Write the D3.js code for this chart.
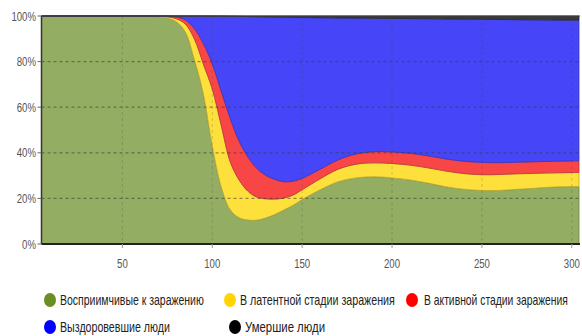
<!DOCTYPE html>
<html><head><meta charset="utf-8">
<script src="https://cdn.jsdelivr.net/npm/d3@7"></script>
<style>body{margin:0;background:#fff}svg{display:block}text{font-family:"Liberation Sans",Arial,sans-serif}</style>
</head><body>
<svg id="c" width="582" height="336"></svg>
<script>
const days = [5,20,40,60,65,70,75,80,85,90,95,100,105,110,115,120,125,130,135,140,145,150,160,170,180,190,200,210,220,230,240,250,260,270,280,290,304];
const susceptible = [100,100,100,100,99.9,99.6,99,97.5,93,81,66,43,25,15,11.5,10.5,10.5,11.5,13,15,17,19.5,23.8,27.3,29,29.5,29,28.1,26.7,25.1,24,23.5,23.5,24,24.5,25,25.2];
const latent = [0,0,0,0,0.1,0.3,0.6,1.3,3.5,9,13,25,27,21,16.5,12.5,10,8.3,6.7,5.2,4.5,4.3,4.8,5.5,6,6.1,6.3,6.5,6.7,6.9,6.9,6.9,7,6.8,6.5,6.2,6.2];
const active = [0,0,0,0,0,0.1,0.3,0.8,1.8,4.5,9,11,15,19,17,15,12.5,10.2,8.6,7.1,6.1,5,4.2,4.1,4.5,4.9,5.1,5.2,5.3,5.3,5.4,5.4,5.2,5.1,5.1,5.1,5.1];
const recovered = [0,0,0,0,0,0,0.1,0.4,1.7,5.48,11.97,20.95,32.92,44.88,54.82,61.75,66.68,69.6,71.25,72.18,71.82,70.55,66.45,62.25,59.58,58.5,58.55,59.08,60.1,61.4,62.32,62.75,62.78,62.5,62.22,61.95,61.65];
const dead = [0,0,0,0,0,0,0,0,0,0.02,0.03,0.05,0.08,0.12,0.18,0.25,0.32,0.4,0.45,0.52,0.58,0.65,0.75,0.85,0.92,1.0,1.05,1.12,1.2,1.3,1.38,1.45,1.52,1.6,1.68,1.75,1.85];
const seriesNames = ["Восприимчивые к заражению","В латентной стадии заражения","В активной стадии заражения","Выздоровевшие люди","Умершие люди"];
const yTicks = [0,0.2,0.4,0.6,0.8,1];
const xTicks = [50,100,150,200,250,300];

const fills = ["#93ad62","#fde03c","#f84646","#4646f8","#3a3a3a"];
const legendColors = ["#6b8e23","#ffd400","#ff0000","#0000ff","#000000"];
const keys = ["s","e","i","r","d"];
const rows = days.map((d,k)=>({day:d,s:susceptible[k]/100,e:latent[k]/100,i:active[k]/100,r:recovered[k]/100,d:dead[k]/100}));

const svg = d3.select("#c");
const L=41.5, R=579, T=16, B=244;
const x = d3.scaleLinear().domain([5,304]).range([L,R]);
const y = d3.scaleLinear().domain([0,1]).range([B,T]);

svg.append("clipPath").attr("id","clip").append("rect").attr("x",L).attr("y",T-1).attr("width",R-L+1).attr("height",B-T+1);
const stack = d3.stack().keys(keys)(rows);
const area = d3.area().x(d=>x(d.data.day)).y0(d=>y(d[0])).y1(d=>y(d[1])).curve(d3.curveCatmullRom.alpha(0.5));
svg.append("g").attr("clip-path","url(#clip)").selectAll("path").data(stack).join("path")
  .attr("d",area).attr("fill",(d,i)=>fills[i])
  .attr("stroke",(d,i)=>d3.color(fills[i]).darker(0.8)).attr("stroke-width",0.8);

// grid
const g = svg.append("g");
g.selectAll("line.h").data(yTicks.filter(t=>t>0&&t<1)).join("line")
  .attr("x1",L).attr("x2",R).attr("y1",d=>y(d)).attr("y2",d=>y(d))
  .attr("stroke","rgba(60,60,60,0.55)").attr("stroke-dasharray","3,3").attr("stroke-width",1.2);
g.selectAll("line.v").data(xTicks).join("line")
  .attr("y1",T).attr("y2",B).attr("x1",d=>x(d)).attr("x2",d=>x(d))
  .attr("stroke","rgba(60,60,60,0.22)").attr("stroke-dasharray","3,3").attr("stroke-width",1);

// axes lines
svg.append("line").attr("x1",L).attr("x2",R+1).attr("y1",T).attr("y2",T).attr("stroke","#444").attr("stroke-width",1);
svg.append("line").attr("x1",L).attr("x2",L).attr("y1",T).attr("y2",B).attr("stroke","#333").attr("stroke-width",1.5);
svg.append("line").attr("x1",L).attr("x2",R+1).attr("y1",B).attr("y2",B).attr("stroke","#222").attr("stroke-width",2);

// y tick labels
const sx = 0.74;
const yl = svg.append("g");
yTicks.forEach(t=>{
  yl.append("line").attr("x1",L-4).attr("x2",L).attr("y1",y(t)).attr("y2",y(t)).attr("stroke","#666");
  yl.append("g").attr("transform",`translate(36,${y(t)+4.5}) scale(${sx},1)`)
    .append("text").attr("text-anchor","end").attr("font-size",13).attr("fill","#555").text(d3.format(".0%")(t));
});
const xl = svg.append("g");
xTicks.forEach(t=>{
  xl.append("line").attr("x1",x(t)).attr("x2",x(t)).attr("y1",B).attr("y2",B+4).attr("stroke","#999");
  xl.append("g").attr("transform",`translate(${x(t)},${268}) scale(${sx},1)`)
    .append("text").attr("text-anchor","middle").attr("font-size",13).attr("fill","#555").text(t);
});

// legend
const legendPos = [[50,300,60,144],[230,300,240,155],[412,300,424,144],[50,327,60,110],[235,327,245,80]];
const lg = svg.append("g");
seriesNames.forEach((n,i)=>{
  const p = legendPos[i];
  lg.append("ellipse").attr("cx",p[0]).attr("cy",p[1]).attr("rx",6).attr("ry",7).attr("fill",legendColors[i]);
  const gg = lg.append("g");
  const t = gg.append("text").attr("x",0).attr("y",0).attr("font-size",14).attr("fill","#222").text(n);
  const w = t.node().getComputedTextLength();
  gg.attr("transform",`translate(${p[2]},${p[1]+5}) scale(${p[3]/w},1)`);
});
</script>
</body></html>
